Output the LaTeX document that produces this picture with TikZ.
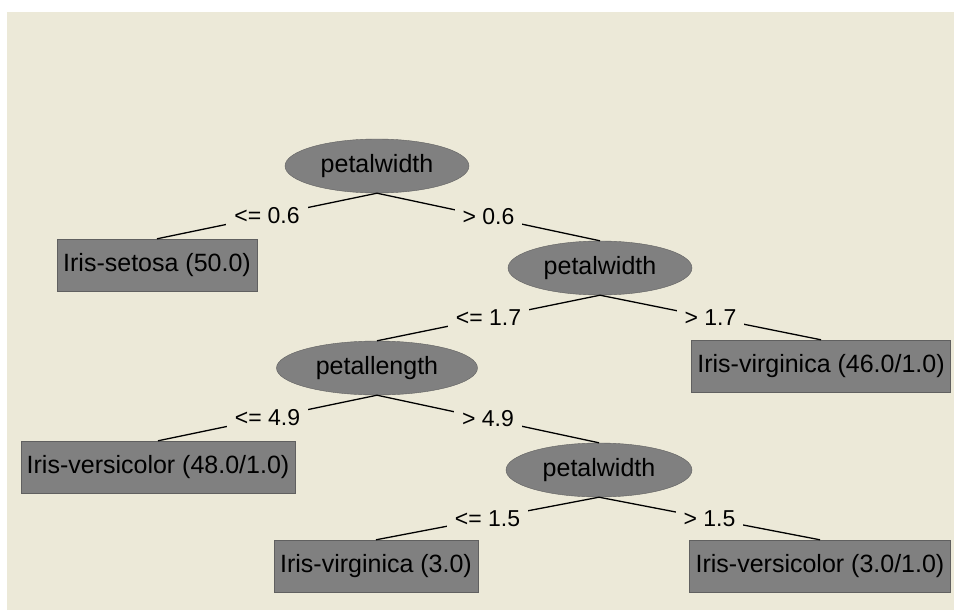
\documentclass[tikz,border=0pt]{standalone}
\usepackage{fontspec}
\setmainfont{Liberation Sans}
\usetikzlibrary{shapes.geometric}
\definecolor{panel}{RGB}{236,233,216}
\definecolor{nodefill}{RGB}{128,128,128}
\definecolor{nodeline}{RGB}{96,96,96}
\tikzset{
  test/.style={ellipse,draw=nodeline,fill=nodefill,inner sep=0pt,minimum height=54pt,font=\fontsize{25}{30}\selectfont},
  leaf/.style={rectangle,draw=nodeline,fill=nodefill,inner xsep=6pt,minimum height=52pt,font=\fontsize{25}{30}\selectfont},
  branch/.style={fill=panel,inner xsep=8pt,inner ysep=2pt,font=\fontsize{23}{28}\selectfont},
  edge/.style={draw=black,line width=1.3pt}
}

\begin{document}
\begin{tikzpicture}[x=1pt,y=-1pt]
            \useasboundingbox (0,0) rectangle (954,610);
            \fill[panel] (7,12) rectangle (954,610);
            % tests
            \node[test,minimum width=184pt] (pwa) at (377,166) {petalwidth};
            \node[test,minimum width=184pt] (pwb) at (600,268) {petalwidth};
            \node[test,minimum width=201pt] (pl) at (377,368) {petallength};
            \node[test,minimum width=186pt] (pwc) at (599,470) {petalwidth};
            % leaves
            \node[leaf] (setosa) at (157,265) {Iris-setosa (50.0)};
            \node[leaf] (virgA) at (821,366) {Iris-virginica (46.0/1.0)};
            \node[leaf] (versA) at (158,467) {Iris-versicolor (48.0/1.0)};
            \node[leaf] (virgB) at (376,566) {Iris-virginica (3.0)};
            \node[leaf] (versB) at (820,566) {Iris-versicolor (3.0/1.0)};
            % branches
            \draw[edge] (pwa.south) -- node[branch] {<= 0.6} (setosa.north);
            \draw[edge] (pwa.south) -- node[branch] {> 0.6} (pwb.north);
            \draw[edge] (pwb.south) -- node[branch] {<= 1.7} (pl.north);
            \draw[edge] (pwb.south) -- node[branch] {> 1.7} (virgA.north);
            \draw[edge] (pl.south) -- node[branch] {<= 4.9} (versA.north);
            \draw[edge] (pl.south) -- node[branch] {> 4.9} (pwc.north);
            \draw[edge] (pwc.south) -- node[branch] {<= 1.5} (virgB.north);
            \draw[edge] (pwc.south) -- node[branch] {> 1.5} (versB.north);
\end{tikzpicture}
\end{document}
